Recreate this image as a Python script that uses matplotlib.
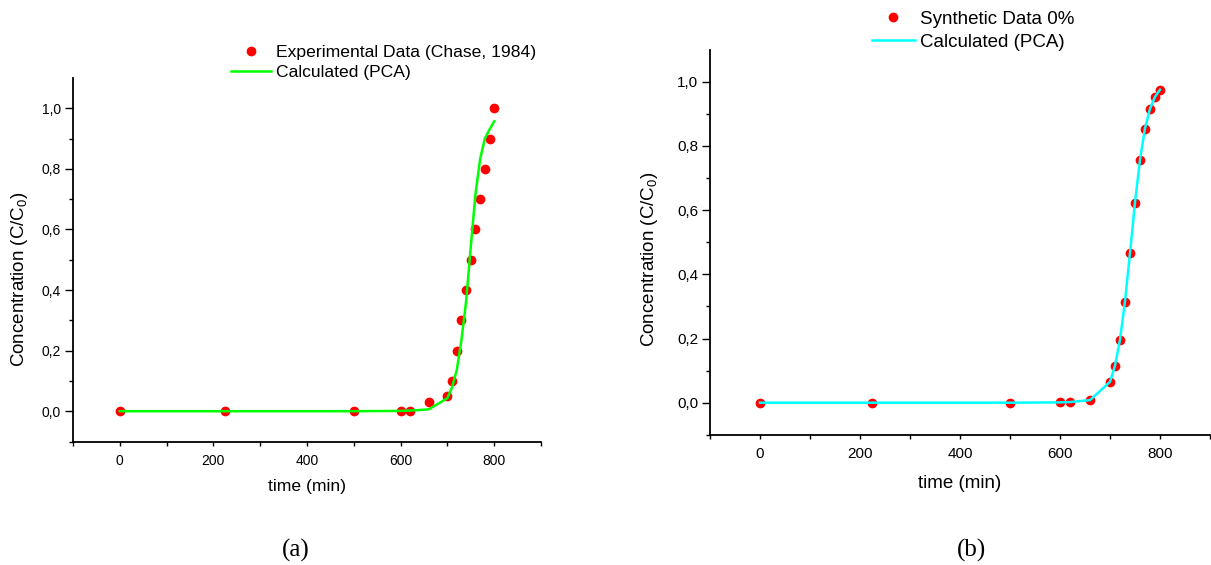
import matplotlib
matplotlib.use("Agg")
import matplotlib.pyplot as plt
from matplotlib.ticker import FixedLocator

plt.rcParams['font.family'] = ['Liberation Sans', 'DejaVu Sans']
plt.rcParams['mathtext.default'] = 'regular'

# time points (min)
t = [0, 225, 500, 600, 620, 660, 700, 710, 720, 730, 740, 750, 760, 770, 780, 790, 800]

# panel (a): experimental data and model
exp_a = [0, 0, 0, 0, 0, 0.03, 0.05, 0.10, 0.20, 0.30, 0.40, 0.50, 0.60, 0.70, 0.80, 0.90, 1.00]
calc_a = [0, 0, 0, 0.001, 0.002, 0.006, 0.043, 0.079, 0.136, 0.235, 0.363, 0.544, 0.717, 0.833, 0.900, 0.930, 0.957]

# panel (b): synthetic data and model
syn_b = [0, 0, 0, 0.001, 0.002, 0.007, 0.064, 0.114, 0.194, 0.315, 0.466, 0.623, 0.756, 0.854, 0.915, 0.952, 0.974]
calc_b = [0, 0, 0, 0.001, 0.002, 0.008, 0.065, 0.115, 0.196, 0.316, 0.466, 0.624, 0.757, 0.855, 0.916, 0.953, 0.975]

yticklabels = ['0,0', '0,2', '0,4', '0,6', '0,8', '1,0']

W, H = 1211, 565
fig = plt.figure(figsize=(W / 100, H / 100), dpi=100)


def px_axes(x0, x1, ytop, ybot):
    return fig.add_axes([x0 / W, 1 - ybot / H, (x1 - x0) / W, (ybot - ytop) / H])


def style(ax, tsize, lsize, ysize):
    ax.set_xlim(-100, 900)
    ax.set_ylim(-0.1, 1.1)
    for s in ['top', 'right']:
        ax.spines[s].set_visible(False)
    for s in ['left', 'bottom']:
        ax.spines[s].set_linewidth(1.3)
    ax.xaxis.set_major_locator(FixedLocator([0, 200, 400, 600, 800]))
    ax.xaxis.set_minor_locator(FixedLocator([-100, 100, 300, 500, 700, 900]))
    ax.yaxis.set_major_locator(FixedLocator([0, 0.2, 0.4, 0.6, 0.8, 1.0]))
    ax.yaxis.set_minor_locator(FixedLocator([-0.1, 0.1, 0.3, 0.5, 0.7, 0.9]))
    ax.set_yticklabels(yticklabels)
    ax.tick_params(axis='x', which='both', direction='out', length=3, width=1, labelsize=tsize, pad=6)
    ax.tick_params(axis='y', which='major', direction='out', length=5.5, width=1, labelsize=tsize, pad=3)
    ax.tick_params(axis='y', which='minor', direction='out', length=3, width=1)
    ax.set_xlabel('time (min)', fontsize=lsize)
    ax.set_ylabel('Concentration (C/C$_0$)', fontsize=ysize)
    ax.xaxis.label.set_verticalalignment('center')
    ax.yaxis.label.set_verticalalignment('center')


# panel (a)
ax1 = px_axes(73, 541, 78, 441.5)
style(ax1, 10, 12.6, 13.5)
ax1.plot(t, exp_a, 'o', color='#ff0000', ms=6, mec='#ff0000', label='Experimental Data (Chase, 1984)')
ax1.plot(t, calc_a, '-', color='#00ff00', lw=1.8, label='Calculated (PCA)')
ax1.xaxis.set_label_coords(0.5, -(487 - 441.5) / 363.5)
ax1.yaxis.set_label_coords(-(73 - 20) / 468, 0.446)
ax1.legend(loc='upper left', bbox_to_anchor=(231 / W, 1 - 44.5 / H), bbox_transform=fig.transFigure,
           frameon=False, fontsize=12.6, handlelength=2.29, handletextpad=0.29, labelspacing=0.3,
           borderpad=0, borderaxespad=0, numpoints=1)

# panel (b)
ax2 = px_axes(710, 1210, 49.6, 434.8)
style(ax2, 11, 13.5, 13.5)
ax2.plot(t, syn_b, 'o', color='#ff0000', ms=6, mec='#ff0000', label='Synthetic Data 0%')
ax2.plot(t, calc_b, '-', color='#00ffff', lw=1.8, label='Calculated (PCA)')
ax2.xaxis.set_label_coords(0.5, -(484 - 434.8) / 385.2)
ax2.yaxis.set_label_coords(-(710 - 650) / 500, 0.456)
ax2.legend(loc='upper left', bbox_to_anchor=(872 / W, 1 - 10.5 / H), bbox_transform=fig.transFigure,
           frameon=False, fontsize=13.5, handlelength=2.27, handletextpad=0.29, labelspacing=0.32,
           borderpad=0, borderaxespad=0, numpoints=1)

fig.text(296 / W, 1 - 550 / H, '(a)', ha='center', va='center', fontsize=18, family='Liberation Serif')
fig.text(972 / W, 1 - 550 / H, '(b)', ha='center', va='center', fontsize=18, family='Liberation Serif')

fig.savefig('out.png', dpi=100)
